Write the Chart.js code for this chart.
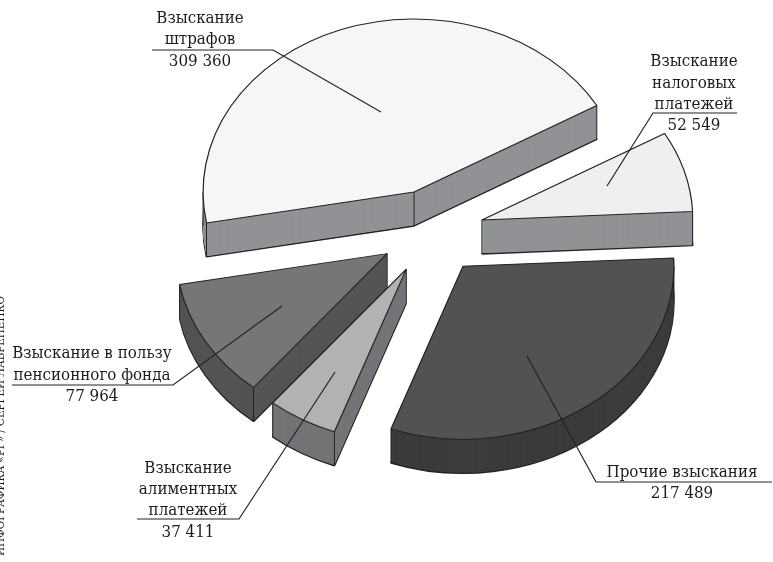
<!DOCTYPE html>
<html lang="ru">
<head>
<meta charset="utf-8">
<style>html,body{margin:0;padding:0;background:#fff}canvas{display:block}</style>
<script src="https://cdn.jsdelivr.net/npm/chart.js@4"></script>
</head>
<body>
<canvas id="c" width="773" height="562"></canvas>
<script>
const categories = ['Взыскание штрафов','Взыскание налоговых платежей','Прочие взыскания','Взыскание алиментных платежей','Взыскание в пользу пенсионного фонда'];
const values = [309360, 52549, 217489, 37411, 77964];
const topColors = ['#f6f6f6','#eef0ef','#525254','#b1b2b4','#757678'];
const wallColors = ['#929396','#929396','#3c3c3d','#747578','#545456'];
const labelLines = [
  ['Взыскание','штрафов'],
  ['Взыскание','налоговых','платежей'],
  ['Прочие взыскания'],
  ['Взыскание','алиментных','платежей'],
  ['Взыскание в пользу','пенсионного фонда']
];
const credit = 'ИНФОГРАФИКА «РГ» / СЕРГЕЙ ЛАВРЕНЕНКО';

const tilt = 0.82, depth = 34, explode = 52, lineCol = '#232323';
const labelFont = '16.8px "DejaVu Serif Condensed"';
const labelLayout = [
  {x:200, y:[23,44,66], leader:[[152,50],[273,50],[381,112]]},
  {x:694, y:[66,88,109,130], leader:[[737,113],[653,113],[607,186]]},
  {x:682, y:[477,498], leader:[[772,482],[596,482],[527,356]]},
  {x:188, y:[473,494,515,537], leader:[[137,519],[239,519],[335,372]]},
  {x:92,  y:[358,380,401], leader:[[12,385],[173,385],[282,306]]}
];

const fmt = v => String(v).replace(/\B(?=(\d{3})+$)/g,' ');

const pie3d = {
  id:'pie3d',
  beforeDatasetsDraw(chart){
    const ctx = chart.ctx;
    const arcs = chart.getDatasetMeta(0).data;
    const order = arcs.map((a,i)=>i).sort((p,q)=>{
      const m=a=>(a.startAngle+a.endAngle)/2;
      return Math.sin(m(arcs[p]))-Math.sin(m(arcs[q]));
    });
    const place = (arc,dy)=>{
      const mid=(arc.startAngle+arc.endAngle)/2;
      ctx.translate(arc.x,arc.y+dy);
      ctx.scale(1,tilt);
      ctx.translate(-arc.x,-arc.y);
      ctx.translate(Math.cos(mid)*explode,Math.sin(mid)*explode);
    };
    order.forEach(i=>{
      const arc=arcs[i], base=arc.options;
      // bottom face with its outline, then stacked fills hide the hidden part of that outline
      arc.options=Object.assign({},base,{backgroundColor:wallColors[i],borderWidth:1.7});
      ctx.save();place(arc,depth);arc.draw(ctx);ctx.restore();
      arc.options=Object.assign({},base,{borderWidth:0,backgroundColor:wallColors[i]});
      for(let d=depth-1;d>=0.25;d-=0.25){ctx.save();place(arc,d);arc.draw(ctx);ctx.restore();}
      // vertical edges at corners and silhouette extremes
      const angles=[arc.startAngle,arc.endAngle];
      [0,Math.PI,2*Math.PI,3*Math.PI].forEach(t=>{if(t>arc.startAngle&&t<arc.endAngle)angles.push(t);});
      const mid=(arc.startAngle+arc.endAngle)/2;
      const ox=arc.x+Math.cos(mid)*explode, oy=arc.y+Math.sin(mid)*explode*tilt;
      ctx.save();ctx.strokeStyle=lineCol;ctx.lineWidth=1;
      const vert=(x,y)=>{ctx.beginPath();ctx.moveTo(x,y);ctx.lineTo(x,y+depth);ctx.stroke();};
      vert(ox,oy);
      angles.forEach(t=>vert(ox+Math.cos(t)*arc.outerRadius,oy+Math.sin(t)*arc.outerRadius*tilt));
      ctx.restore();
      // top face
      arc.options=base;
      ctx.save();place(arc,0);arc.draw(ctx);ctx.restore();
    });
    return false;
  },
  afterDraw(chart){
    const ctx=chart.ctx;
    ctx.save();
    ctx.fillStyle='#1c1c1c';ctx.strokeStyle=lineCol;ctx.lineWidth=1.2;
    ctx.font=labelFont;ctx.textAlign='center';ctx.textBaseline='alphabetic';
    labelLayout.forEach((l,i)=>{
      const lines=labelLines[i].concat(fmt(values[i]));
      lines.forEach((t,k)=>ctx.fillText(t,l.x,l.y[k]));
      ctx.beginPath();
      l.leader.forEach((p,k)=>k?ctx.lineTo(p[0],p[1]):ctx.moveTo(p[0],p[1]));
      ctx.stroke();
    });
    ctx.translate(1,426);ctx.rotate(-Math.PI/2);
    ctx.font='11.5px "DejaVu Serif Condensed"';ctx.textBaseline='middle';
    ctx.fillText(credit,0,0);
    ctx.restore();
  }
};

new Chart(document.getElementById('c'),{
  type:'pie',
  data:{labels:categories,datasets:[{data:values,backgroundColor:topColors,borderColor:lineCol,borderWidth:1.2}]},
  options:{
    responsive:false,animation:false,
    radius:211,rotation:259.7,
    layout:{padding:{left:91,top:0,right:0,bottom:98}},
    plugins:{legend:{display:false},tooltip:{enabled:false}}
  },
  plugins:[pie3d]
});
</script>
</body>
</html>
